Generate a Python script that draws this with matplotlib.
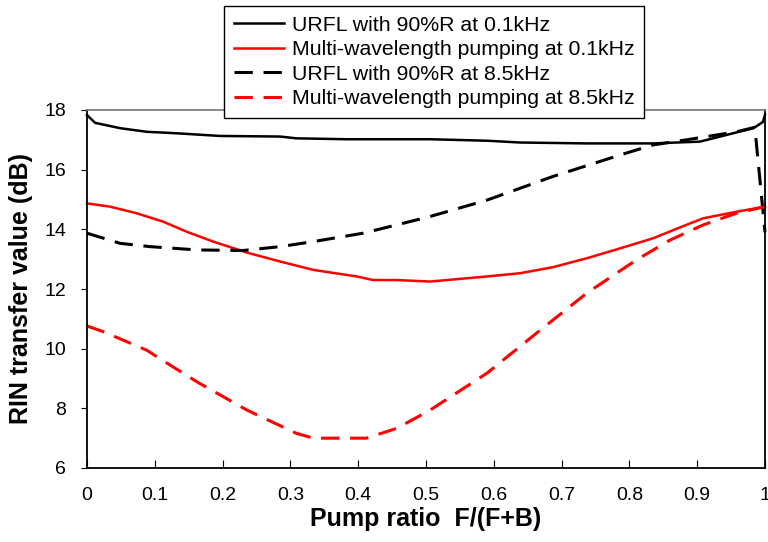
import matplotlib
matplotlib.use("Agg")
import matplotlib.pyplot as plt

plt.rcParams['font.family'] = ['Liberation Sans', 'DejaVu Sans']

# URFL with 90%R at 0.1kHz
urfl_01_x = [0, 0.012, 0.049, 0.088, 0.132, 0.196, 0.285, 0.309, 0.383, 0.506, 0.59,
             0.639, 0.737, 0.835, 0.904, 0.934, 0.958, 0.983, 0.997, 1.0]
urfl_01_y = [17.83, 17.57, 17.39, 17.27, 17.22, 17.13, 17.11, 17.05, 17.02, 17.02, 16.97,
             16.91, 16.88, 16.88, 16.94, 17.11, 17.25, 17.39, 17.6, 17.85]

# Multi-wavelength pumping at 0.1kHz
multi_01_x = [0, 0.034, 0.073, 0.112, 0.147, 0.186, 0.236, 0.285, 0.334, 0.398, 0.422, 0.457,
              0.506, 0.59, 0.639, 0.687, 0.737, 0.786, 0.835, 0.884, 0.909, 0.958, 1.0]
multi_01_y = [14.87, 14.76, 14.54, 14.26, 13.92, 13.59, 13.22, 12.92, 12.64, 12.42, 12.30, 12.30,
              12.25, 12.42, 12.53, 12.73, 13.03, 13.36, 13.70, 14.15, 14.37, 14.59, 14.76]

# URFL with 90%R at 8.5kHz
urfl_85_x = [0, 0.049, 0.093, 0.162, 0.23, 0.285, 0.334, 0.407, 0.457, 0.506, 0.59,
             0.687, 0.786, 0.835, 0.884, 0.958, 0.985, 1.0]
urfl_85_y = [13.87, 13.53, 13.42, 13.31, 13.29, 13.42, 13.59, 13.87, 14.15, 14.43, 14.98,
             15.77, 16.49, 16.83, 17.0, 17.27, 17.42, 13.9]

# Multi-wavelength pumping at 8.5kHz
multi_85_x = [0, 0.024, 0.088, 0.103, 0.162, 0.236, 0.309, 0.334, 0.412, 0.457, 0.506,
              0.59, 0.663, 0.737, 0.81, 0.86, 0.909, 0.958, 1.0]
multi_85_y = [10.76, 10.57, 9.95, 9.73, 8.89, 7.94, 7.16, 7.0, 7.0, 7.33, 7.94,
              9.18, 10.52, 11.86, 12.97, 13.64, 14.15, 14.54, 14.76]

xticks = [0, 0.1, 0.2, 0.3, 0.4, 0.5, 0.6, 0.7, 0.8, 0.9, 1]
xtick_labels = ['0', '0.1', '0.2', '0.3', '0.4', '0.5', '0.6', '0.7', '0.8', '0.9', '1']
yticks = [6, 8, 10, 12, 14, 16, 18]

fig = plt.figure(figsize=(7.68, 5.42), dpi=100)
ax = fig.add_axes([87 / 768, 1 - 468 / 542, 678 / 768, 358 / 542])

dash = (0, (6, 3.5))
ax.plot(urfl_01_x, urfl_01_y, color='black', lw=1.8, label='URFL with 90%R at 0.1kHz', clip_on=False)
ax.plot(multi_01_x, multi_01_y, color='red', lw=1.8, label='Multi-wavelength pumping at 0.1kHz', clip_on=False)
ax.plot(urfl_85_x, urfl_85_y, color='black', lw=2.2, linestyle=dash, label='URFL with 90%R at 8.5kHz', clip_on=False)
ax.plot(multi_85_x, multi_85_y, color='red', lw=2.2, linestyle=dash, label='Multi-wavelength pumping at 8.5kHz', clip_on=False)

ax.set_xlim(0, 1)
ax.set_ylim(6, 18)
ax.set_xticks(xticks)
ax.set_xticklabels(xtick_labels)
ax.set_yticks(yticks)
ax.tick_params(axis='x', direction='in', length=6, pad=14, labelsize=14)
ax.tick_params(axis='y', direction='out', length=4, pad=11, labelsize=14)

for side in ['left', 'bottom', 'right']:
    ax.spines[side].set_color('black')
    ax.spines[side].set_linewidth(1.3)
ax.spines['top'].set_color('#808080')
ax.spines['top'].set_linewidth(1.3)

ax.set_xlabel('Pump ratio  F/(F+B)', fontsize=18, fontweight='bold', labelpad=2)
ax.set_ylabel('RIN transfer value (dB)', fontsize=18, fontweight='bold', labelpad=8)

leg = ax.legend(loc='upper left', bbox_to_anchor=(224 / 768, 1 - 6 / 542),
                bbox_transform=fig.transFigure, borderaxespad=0, fontsize=15.3,
                fancybox=False, framealpha=1, edgecolor='black', handlelength=2.35,
                handletextpad=0.38, labelspacing=0.26, borderpad=0.45)
leg.get_frame().set_linewidth(1.0)

fig.savefig('out.png', dpi=100)
